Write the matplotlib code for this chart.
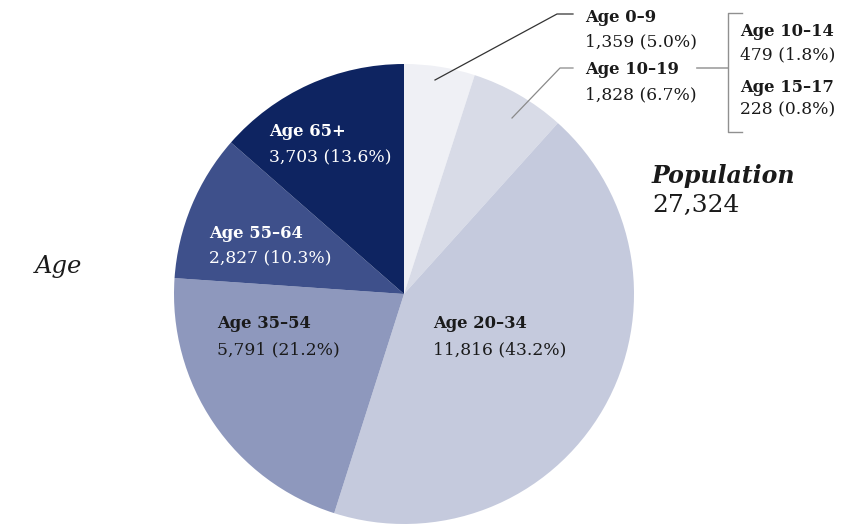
import matplotlib.pyplot as plt

# Data
groups = ["Age 0-9", "Age 10-19", "Age 20-34", "Age 35-54", "Age 55-64", "Age 65+"]
counts = [1359, 1828, 11816, 5791, 2827, 3703]
shares = [5.0, 6.7, 43.2, 21.2, 10.3, 13.6]
sub_groups = ["Age 10-14", "Age 15-17"]
sub_counts = [479, 228]
sub_shares = [1.8, 0.8]
total = 27324

colors = ["#eff0f5", "#d8dbe7", "#c5cadd", "#8e98bd", "#3e508b", "#0e2461"]

W, H = 842, 529
fig = plt.figure(figsize=(W / 100, H / 100), dpi=100)
ax = fig.add_axes([0, 0, 1, 1])


def py(y):
    # pixel row -> data y
    return H - y


ax.pie(counts, colors=colors, startangle=90, counterclock=False,
       center=(404, py(294)), radius=230, frame=True,
       wedgeprops={"linewidth": 0})
ax.set_xlim(0, W)
ax.set_ylim(0, H)
ax.axis("off")

serif = "DejaVu Serif"
fs_name = 11.8
fs_val = 12.3

# labels: (x, y of name, y of value, color)
inside = {
    "Age 65+": (269, 131, 157, "white"),
    "Age 55-64": (209, 233, 258, "white"),
    "Age 35-54": (217, 324, 350, "#1a1a1a"),
    "Age 20-34": (433, 324, 350, "#1a1a1a"),
    "Age 0-9": (585, 17, 42, "#1a1a1a"),
    "Age 10-19": (585, 70, 95, "#1a1a1a"),
}
for g, c, s in zip(groups, counts, shares):
    x, y1, y2, col = inside[g]
    ax.text(x, py(y1), g.replace("-", "–"), family=serif, fontsize=fs_name,
            fontweight="bold", color=col, va="center", ha="left")
    ax.text(x, py(y2), f"{c:,} ({s}%)", family=serif, fontsize=fs_val,
            color=col, va="center", ha="left")

# sub groups of 10-19
for i, (g, c, s) in enumerate(zip(sub_groups, sub_counts, sub_shares)):
    y0 = 32 + i * 55
    ax.text(740, py(y0), g.replace("-", "–"), family=serif, fontsize=fs_name,
            fontweight="bold", color="#1a1a1a", va="center", ha="left")
    ax.text(740, py(y0 + 23), f"{c:,} ({s}%)", family=serif, fontsize=fs_val,
            color="#1a1a1a", va="center", ha="left")

# leader lines
ax.plot([435, 557, 573], [py(80), py(14), py(14)], color="#333333", lw=0.9)
ax.plot([512, 560, 573], [py(118), py(68), py(68)], color="#8a8a8a", lw=0.9)
ax.plot([697, 728], [py(68), py(68)], color="#a0a0a0", lw=1.2)
ax.plot([742, 728, 728, 742], [py(13), py(13), py(132), py(132)],
        color="#909090", lw=1.0)

# titles
ax.text(652, py(176), "Population", family=serif, fontsize=17,
        fontweight="bold", style="italic", color="#1a1a1a", va="center")
ax.text(652, py(205), f"{total:,}", family=serif, fontsize=18,
        color="#1a1a1a", va="center")
ax.text(35, py(266), "Age", family=serif, fontsize=17.5, style="italic",
        color="#1a1a1a", va="center")

fig.savefig("out.png", dpi=100)
plt.close(fig)
